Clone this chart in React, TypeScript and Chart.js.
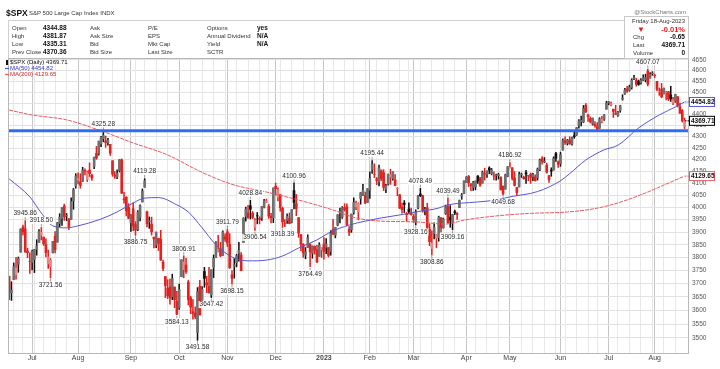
import React, { useEffect, useRef } from "react";
import { Chart, registerables } from "chart.js";
Chart.register(...registerables);

const FONT = '"Liberation Sans", Arial, sans-serif';

// ---- categories: trading days ----
const dates: string[] = [
  "2022-06-16","2022-06-17","2022-06-21","2022-06-22","2022-06-23","2022-06-24","2022-06-27","2022-06-28","2022-06-29","2022-06-30",
  "2022-07-01","2022-07-05","2022-07-06","2022-07-07","2022-07-08","2022-07-11","2022-07-12","2022-07-13","2022-07-14","2022-07-15","2022-07-18","2022-07-19","2022-07-20","2022-07-21","2022-07-22","2022-07-25","2022-07-26","2022-07-27","2022-07-28","2022-07-29",
  "2022-08-01","2022-08-02","2022-08-03","2022-08-04","2022-08-05","2022-08-08","2022-08-09","2022-08-10","2022-08-11","2022-08-12","2022-08-15","2022-08-16","2022-08-17","2022-08-18","2022-08-19","2022-08-22","2022-08-23","2022-08-24","2022-08-25","2022-08-26","2022-08-29","2022-08-30","2022-08-31",
  "2022-09-01","2022-09-02","2022-09-06","2022-09-07","2022-09-08","2022-09-09","2022-09-12","2022-09-13","2022-09-14","2022-09-15","2022-09-16","2022-09-19","2022-09-20","2022-09-21","2022-09-22","2022-09-23","2022-09-26","2022-09-27","2022-09-28","2022-09-29","2022-09-30",
  "2022-10-03","2022-10-04","2022-10-05","2022-10-06","2022-10-07","2022-10-10","2022-10-11","2022-10-12","2022-10-13","2022-10-14","2022-10-17","2022-10-18","2022-10-19","2022-10-20","2022-10-21","2022-10-24","2022-10-25","2022-10-26","2022-10-27","2022-10-28","2022-10-31",
  "2022-11-01","2022-11-02","2022-11-03","2022-11-04","2022-11-07","2022-11-08","2022-11-09","2022-11-10","2022-11-11","2022-11-14","2022-11-15","2022-11-16","2022-11-17","2022-11-18","2022-11-21","2022-11-22","2022-11-23","2022-11-25","2022-11-28","2022-11-29","2022-11-30",
  "2022-12-01","2022-12-02","2022-12-05","2022-12-06","2022-12-07","2022-12-08","2022-12-09","2022-12-12","2022-12-13","2022-12-14","2022-12-15","2022-12-16","2022-12-19","2022-12-20","2022-12-21","2022-12-22","2022-12-23","2022-12-27","2022-12-28","2022-12-29","2022-12-30",
  "2023-01-03","2023-01-04","2023-01-05","2023-01-06","2023-01-09","2023-01-10","2023-01-11","2023-01-12","2023-01-13","2023-01-17","2023-01-18","2023-01-19","2023-01-20","2023-01-23","2023-01-24","2023-01-25","2023-01-26","2023-01-27","2023-01-30","2023-01-31",
  "2023-02-01","2023-02-02","2023-02-03","2023-02-06","2023-02-07","2023-02-08","2023-02-09","2023-02-10","2023-02-13","2023-02-14","2023-02-15","2023-02-16","2023-02-17","2023-02-21","2023-02-22","2023-02-23","2023-02-24","2023-02-27","2023-02-28",
  "2023-03-01","2023-03-02","2023-03-03","2023-03-06","2023-03-07","2023-03-08","2023-03-09","2023-03-10","2023-03-13","2023-03-14","2023-03-15","2023-03-16","2023-03-17","2023-03-20","2023-03-21","2023-03-22","2023-03-23","2023-03-24","2023-03-27","2023-03-28","2023-03-29","2023-03-30","2023-03-31",
  "2023-04-03","2023-04-04","2023-04-05","2023-04-06","2023-04-10","2023-04-11","2023-04-12","2023-04-13","2023-04-14","2023-04-17","2023-04-18","2023-04-19","2023-04-20","2023-04-21","2023-04-24","2023-04-25","2023-04-26","2023-04-27","2023-04-28",
  "2023-05-01","2023-05-02","2023-05-03","2023-05-04","2023-05-05","2023-05-08","2023-05-09","2023-05-10","2023-05-11","2023-05-12","2023-05-15","2023-05-16","2023-05-17","2023-05-18","2023-05-19","2023-05-22","2023-05-23","2023-05-24","2023-05-25","2023-05-26","2023-05-30","2023-05-31",
  "2023-06-01","2023-06-02","2023-06-05","2023-06-06","2023-06-07","2023-06-08","2023-06-09","2023-06-12","2023-06-13","2023-06-14","2023-06-15","2023-06-16","2023-06-20","2023-06-21","2023-06-22","2023-06-23","2023-06-26","2023-06-27","2023-06-28","2023-06-29","2023-06-30",
  "2023-07-03","2023-07-05","2023-07-06","2023-07-07","2023-07-10","2023-07-11","2023-07-12","2023-07-13","2023-07-14","2023-07-17","2023-07-18","2023-07-19","2023-07-20","2023-07-21","2023-07-24","2023-07-25","2023-07-26","2023-07-27","2023-07-28","2023-07-31",
  "2023-08-01","2023-08-02","2023-08-03","2023-08-04","2023-08-07","2023-08-08","2023-08-09","2023-08-10","2023-08-11","2023-08-14","2023-08-15","2023-08-16","2023-08-17","2023-08-18",
];

// ---- series values (daily OHLC) ----
const open: number[] = [
  3728,3665,3715,3733,3774,3821,3920,3913,3825,3785,
  3781,3792,3831,3858,3888,3880,3851,3776,3763,3818,3883,3860,3935,3955,4006,3965,3953,3951,4027,4088,
  4113,4105,4108,4154,4115,4155,4133,4170,4227,4225,4269,4290,4281,4273,4266,4195,4134,4126,4153,4199,4034,4041,4000,
  3937,3994,3930,3909,3959,4022,4083,3982,3941,3932,3880,3849,3875,3871,3782,3727,3682,3687,3651,3687,3633,
  3610,3726,3753,3771,3706,3647,3595,3590,3520,3690,3638,3746,3703,3689,3657,3762,3799,3825,3834,3808,3881,
  3901,3852,3733,3766,3780,3817,3810,3859,3963,3977,4006,3976,3919,3966,3956,3956,4000,4023,4005,3964,3957,
  4087,4041,4052,3996,3934,3947,3954,3940,4069,4015,3958,3890,3853,3810,3839,3853,3816,3843,3829,3805,3830,
  3853,3840,3839,3823,3911,3888,3928,3977,3960,3999,4002,3911,3909,3979,4002,3982,4036,4053,4049,4020,
  4070,4158,4136,4119,4106,4153,4144,4075,4096,4126,4119,4114,4077,4052,4001,4018,3973,3993,3977,
  3963,3938,3998,4055,4048,3987,3998,3912,3835,3894,3876,3878,3958,3917,3975,4003,3959,3939,3982,3975,3999,4046,4056,
  4102,4128,4094,4082,4085,4130,4121,4100,4140,4137,4164,4140,4131,4132,4132,4126,4087,4075,4129,
  4166,4165,4122,4082,4084,4136,4125,4144,4132,4138,4127,4127,4122,4157,4204,4190,4176,4132,4155,4156,4226,4190,
  4183,4241,4282,4271,4285,4268,4304,4308,4350,4366,4365,4440,4396,4380,4355,4354,4344,4337,4367,4377,4422,
  4450,4442,4422,4404,4394,4415,4467,4492,4514,4508,4521,4563,4554,4550,4543,4555,4558,4598,4565,4585,
  4578,4550,4501,4514,4492,4498,4502,4487,4450,4458,4479,4433,4416,4344.88,
];
const high: number[] = [
  3728,3707,3779,3801,3802,3913,3928,3945.86,3836,3818,
  3829,3832,3870,3910,3918.5,3880,3873,3829,3796,3863,3902,3939,3974,3999,4013,3975,3954,4039,4078,4140,
  4144,4140,4167,4161,4151,4186,4137,4211,4257,4280,4301,4325.28,4302,4292,4266,4195,4149,4156,4200,4203,4062,4044,4015,
  3970,4018,3942,3987,4010,4076,4119.28,3985,3961,3960,3880,3900,3876,3907,3790,3727,3715,3717,3736,3687,3671,
  3698,3791,3806.91,3797,3713,3653,3640,3613,3685,3712,3689,3762,3728,3762,3752,3810,3862,3887,3859,3905,3893,
  3911.79,3894,3750,3796,3813,3859,3819,3958,4001,4008,4028.84,3983,3954,3979,3962,4003,4033,4034,4012,3976,4080,
  4100.51,4080,4052,4001,3950,3974,3977,3990,4100.96,4053,3958,3890,3854,3839,3889,3853,3845,3846,3848,3858,3839,
  3878,3874,3839,3906,3951,3919,3970,3997,4003,4015,4014,3922,3972,4039,4026,4019,4061,4095,4063,4077,
  4148,4195.44,4182,4124,4176,4156,4157,4095,4138,4159,4148,4136,4082,4052,4017,4028,3979,4018,3997,
  3971,3990,4048,4078.49,4050,4000,4017,3934,3905,3937,3891,3964,3958,3956,4009,4039.49,4007,3972,3989,3979,4030,4057,4110,
  4127,4133,4099,4108,4109,4132,4125,4151,4163,4152,4169.48,4162,4148,4138,4142,4126,4089,4138,4170,
  4186.92,4165,4149,4082,4147,4143,4130,4154,4132,4143,4141,4135,4164,4202,4213,4209,4185,4132,4165,4212,4231,4195,
  4232,4290,4299,4288,4299,4298,4322,4340,4375,4391,4439,4448,4400,4387,4382,4366,4362,4384,4390,4398,4458,
  4457,4454,4422,4440,4412,4440,4488,4517,4527,4532,4562,4578,4564,4556,4563,4580,4583,4607.07,4590,4595,
  4584,4550,4519,4540,4519,4503,4503,4527,4476,4490,4479,4450,4421,4381.87,
];
const low: number[] = [
  3640,3637,3715,3717,3743,3821,3889,3820,3799,3739,
  3752,3742,3809,3858,3869,3847,3802,3758,3721.56,3818,3818,3860,3922,3927,3947,3946,3910,3951,3992,4079,
  4097,4079,4107,4135,4107,4128,4112,4161,4201,4219,4256,4277,4253,4262,4218,4129,4120,4119,4147,4057,4017,3965,3954,
  3903,3906,3886.75,3906,3945,4022,4083,3921,3915,3888,3837,3838,3827,3789,3749,3647,3644,3623,3640,3610,3584.13,
  3604,3726,3722,3739,3620,3588,3568,3570,3491.58,3584,3638,3686,3666,3664,3647.42,3723,3799,3822,3803,3808,3863,
  3843,3758,3698.15,3721,3764,3786,3751,3859,3944,3956,3953,3954,3906.54,3933,3933,3947,3998,4020,3955,3937,3938,
  4050,4026,3984,3918.39,3922,3935,3933,3937,3993,3966,3879,3827,3800,3795,3839,3764.49,3797,3813,3780,3805,3800,
  3794,3815,3802,3809,3890,3877,3925,3937,3955,3984,3926,3886,3899,3972,3990,3949,4013,4049,4015,4020,
  4037,4141,4123,4094,4088,4111,4069,4060,4092,4095,4113,4089,4048,3995,3976,3979,3943,3973,3968,
  3939,3928.16,3994,4044,3980,3969,3908,3846,3808.86,3873,3838,3864,3901,3916,3971,3936,3919,3909.16,3970,3951,3999,4033,4056,
  4102,4086,4069,4070,4072,4099,4086,4100,4113,4124,4140,4135,4114,4113,4117,4072,4049.68,4075,4127,
  4164,4113,4088,4048.28,4084,4124,4116,4099,4110,4099,4110,4109,4113,4153,4180,4187,4142,4103,4129,4155,4192,4166,
  4171,4241,4266,4263,4266,4262,4292,4305,4337,4347,4362,4407,4367,4360,4351,4341,4328,4336,4360,4372,4422,
  4442,4437,4385,4398,4389,4408,4463,4489,4499,4504,4514,4558,4527,4531,4537,4553,4547,4528,4564,4578,
  4567,4505,4485,4474,4491,4464,4461,4457,4443,4453,4432,4403,4364,4335.31,
];
const close: number[] = [
  3667,3675,3765,3760,3796,3912,3900,3822,3819,3785,
  3825,3831,3845,3903,3899,3854,3819,3802,3790,3863,3831,3937,3960,3999,3962,3967,3921,4024,4072,4130,
  4119,4091,4155,4152,4145,4140,4122,4210,4207,4280,4297,4305,4274,4284,4228,4138,4129,4141,4199,4058,4031,3986,3955,
  3967,3924,3908,3980,4006,4067,4110,3933,3946,3901,3873,3900,3856,3790,3758,3693,3655,3647,3719,3640,3586,
  3678,3791,3783,3745,3640,3612,3589,3577,3670,3583,3678,3720,3695,3666,3753,3797,3859,3831,3807,3901,3872,
  3856,3760,3720,3771,3807,3828,3749,3956,3993,3957,3992,3959,3947,3965,3950,4004,4027,4026,3964,3958,4080,
  4077,4072,3999,3941,3934,3964,3934,3991,4020,3995,3896,3852,3818,3822,3878,3822,3845,3829,3783,3849,3840,
  3824,3853,3808,3895,3892,3919,3970,3983,3999,3991,3929,3899,3973,4020,4017,4016,4060,4071,4018,4077,
  4119,4180,4136,4111,4164,4118,4082,4090,4137,4136,4148,4090,4079,3997,3991,4012,3970,3982,3970,
  3951,3981,4046,4048,3986,3992,3918,3862,3856,3919,3892,3960,3917,3952,4003,3937,3949,3971,3978,3971,4028,4051,4109,
  4125,4101,4090,4105,4109,4109,4092,4146,4138,4151,4155,4155,4130,4134,4137,4072,4056,4135,4169,
  4168,4120,4091,4061,4136,4138,4119,4138,4131,4124,4136,4110,4159,4198,4192,4193,4146,4115,4151,4205,4206,4180,
  4221,4282,4274,4284,4268,4294,4299,4339,4369,4373,4426,4410,4389,4366,4382,4348,4329,4378,4377,4396,4450,
  4456,4447,4412,4399,4410,4439,4472,4510,4505,4523,4555,4566,4535,4536,4555,4567,4567,4537,4582,4589,
  4577,4513,4502,4478,4518,4499,4468,4469,4464,4490,4438,4404,4370.36,4369.71,
];

// ---- moving averages ----
const ma50Dates: string[] = [
  "2022-06-16","2022-06-30","2022-07-08","2022-07-15","2022-07-25","2022-08-01","2022-08-12","2022-08-24","2022-09-02","2022-09-12",
  "2022-09-20","2022-09-30","2022-10-07","2022-10-17","2022-10-25","2022-11-03","2022-11-14","2022-11-25","2022-12-06","2022-12-15",
  "2022-12-28","2023-01-06","2023-01-19","2023-01-30","2023-02-08","2023-02-21","2023-03-02","2023-03-16","2023-03-21","2023-04-11",
  "2023-04-21","2023-05-01","2023-05-17","2023-06-01","2023-06-07","2023-06-16","2023-06-29","2023-07-10","2023-07-21","2023-08-03",
  "2023-08-14","2023-08-18",
];
const ma50: number[] = [
  4118,4043,3977,3925,3917,3925,3949,3981,4018,4038,
  4040,4010,3981,3917,3850,3802,3787,3790,3806,3837,
  3869,3901,3928,3944,3957,3969,3981,3997,4008,4022,
  4030,4043,4065,4110,4140,4198,4242,4262,4338,4396,
  4432,4454.82,
];
const ma200Dates: string[] = [
  "2022-06-16","2022-07-01","2022-07-25","2022-08-12","2022-09-02","2022-09-26","2022-10-14","2022-11-03","2022-11-25","2022-12-15",
  "2023-01-09","2023-01-24","2023-02-08","2023-03-02","2023-03-21","2023-03-31","2023-04-21","2023-05-11","2023-06-06","2023-06-23",
  "2023-07-10","2023-07-27","2023-08-07","2023-08-18",
];
const ma200: number[] = [
  4418,4396,4374,4329,4272,4220,4150,4095,4063,4030,
  3989,3957,3944,3941,3932,3948,3965,3975,3981,3995,
  4018,4063,4092,4129.65,
];

// ---- horizontal level and peak/trough labels ----
const levelLine = 4325.28;
const annDates: string[] = [
  "2022-06-28","2022-07-08","2022-07-14","2022-08-16","2022-09-06","2022-09-12","2022-09-30","2022-10-05","2022-10-13","2022-10-21",
  "2022-11-01","2022-11-03","2022-11-15","2022-11-17","2022-12-06","2022-12-13","2022-12-22","2023-02-02","2023-03-02","2023-03-06",
  "2023-03-13","2023-03-22","2023-03-24","2023-04-26","2023-05-01","2023-07-27",
];
const annValues: number[] = [
  3945.86,3918.5,3721.56,4325.28,3886.75,4119.28,3584.13,3806.91,3491.58,3647.42,
  3911.79,3698.15,4028.84,3906.54,3918.39,4100.96,3764.49,4195.44,3928.16,4078.49,
  3808.86,4039.49,3909.16,4049.68,4186.92,4607.07,
];
const annSide: string[] = [
  "a","a","b","a","b","a","b","a","b","b",
  "a","b","a","b","b","a","b","a","b","a",
  "b","a","b","b","a","a",
];

// ---- axis tick labels ----
const yTicks: number[] = [3500,3550,3600,3650,3700,3750,3800,3850,3900,3950,4000,4050,4100,4150,4200,4250,4300,4350,4400,4450,4500,4550,4600,4650];
const monthNames: string[] = ["Jan","Feb","Mar","Apr","May","Jun","Jul","Aug","Sep","Oct","Nov","Dec"];

const BLACK = "#111111";
const RED = "#e3211f";
const BLACK_HOLLOW = "#707070";
const RED_HOLLOW = "#ee8585";
const MA50_C = "#5656d6";
const MA200_C = "#e85a64";

function monthLabel(i: number): string {
  if (i <= 0 || i >= dates.length) return "";
  const m = dates[i].slice(5, 7);
  if (m === dates[i - 1].slice(5, 7)) return "";
  const mi = parseInt(m, 10);
  return mi === 1 ? dates[i].slice(0, 4) : monthNames[mi - 1];
}
function weekStart(i: number): boolean {
  if (i <= 0 || i >= dates.length) return false;
  const d = new Date(dates[i] + "T00:00:00Z").getUTCDay();
  const p = new Date(dates[i - 1] + "T00:00:00Z").getUTCDay();
  return d < p || (new Date(dates[i]).getTime() - new Date(dates[i - 1]).getTime()) > 4 * 86400000;
}

const last = dates.length - 1;

const overlay = {
  id: "overlay",
  afterDatasetsDraw(chart: any) {
    const { ctx, chartArea: a, scales } = chart;
    const y = scales.y;
    const ly = y.getPixelForValue(levelLine);
    ctx.save();
    ctx.strokeStyle = "#2e6cf6";
    ctx.lineWidth = 3;
    ctx.beginPath();
    ctx.moveTo(a.left, ly);
    ctx.lineTo(a.right, ly);
    ctx.stroke();
    ctx.restore();
  },
  afterDraw(chart: any) {
    const { ctx, chartArea: a, scales } = chart;
    const x = scales.x, y = scales.y;
    ctx.save();
    // frame
    ctx.strokeStyle = "#b8b8b8";
    ctx.lineWidth = 1;
    ctx.strokeRect(a.left + 0.5, a.top + 0.5, a.right - a.left, a.bottom - a.top);

    // peak / trough labels
    ctx.font = `6.5px ${FONT}`;
    ctx.textAlign = "center";
    ctx.textBaseline = "middle";
    annDates.forEach((d, k) => {
      const i = dates.indexOf(d);
      if (i < 0) return;
      const px = x.getPixelForValue(i);
      const py = y.getPixelForValue(annValues[k]);
      const txt = annValues[k].toFixed(2);
      const w = ctx.measureText(txt).width;
      const above = annSide[k] === "a";
      const cy = above ? py - 7 : py + 7;
      ctx.fillStyle = "rgba(255,255,255,0.92)";
      ctx.fillRect(px - w / 2 - 1, cy - 3.5, w + 2, 7);
      ctx.fillStyle = "#2a2a2a";
      ctx.fillText(txt, px, cy);
      ctx.strokeStyle = "#555";
      ctx.lineWidth = 0.6;
      ctx.beginPath();
      ctx.moveTo(px, above ? py - 1 : py + 1);
      ctx.lineTo(px, above ? py - 3.5 : py + 3.5);
      ctx.stroke();
    });

    // in-plot legend
    ctx.textAlign = "left";
    ctx.font = `6px ${FONT}`;
    ctx.fillStyle = BLACK;
    ctx.fillRect(6, 60, 2, 5);
    ctx.fillText(`$SPX (Daily) ${close[last].toFixed(2)}`, 10, 62.5);
    ctx.strokeStyle = MA50_C;
    ctx.lineWidth = 1.2;
    ctx.beginPath(); ctx.moveTo(5, 68.5); ctx.lineTo(9, 68.5); ctx.stroke();
    ctx.fillStyle = "#3535c8";
    ctx.fillText(`MA(50) ${ma50[ma50.length - 1].toFixed(2)}`, 10, 68.5);
    ctx.strokeStyle = MA200_C;
    ctx.beginPath(); ctx.moveTo(5, 74.5); ctx.lineTo(9, 74.5); ctx.stroke();
    ctx.fillStyle = "#d52a2a";
    ctx.fillText(`MA(200) ${ma200[ma200.length - 1].toFixed(2)}`, 10, 74.5);

    // right-edge value boxes
    const boxes = [
      { v: ma50[ma50.length - 1], c: MA50_C },
      { v: close[last], c: "#000" },
      { v: ma200[ma200.length - 1], c: MA200_C },
    ];
    ctx.font = `bold 6.5px ${FONT}`;
    boxes.forEach((b) => {
      const by = y.getPixelForValue(b.v);
      ctx.fillStyle = "#fff";
      ctx.fillRect(689.5, by - 4.5, 25, 9);
      ctx.strokeStyle = b.c;
      ctx.lineWidth = 1;
      ctx.strokeRect(689.5, by - 4.5, 25, 9);
      ctx.setLineDash([1.5, 1]);
      ctx.beginPath(); ctx.moveTo(a.right - 3, by); ctx.lineTo(689.5, by); ctx.stroke();
      ctx.setLineDash([]);
      ctx.fillStyle = "#111";
      ctx.fillText(b.v.toFixed(2), 691, by + 0.5);
    });
    ctx.restore();
  },
};

export default function App() {
  const ref = useRef<HTMLCanvasElement>(null);

  useEffect(() => {
    if (!ref.current) return;
    const labels = [...dates, ""];
    const candleColor = dates.map((_, i) => (close[i] >= (i ? close[i - 1] : open[i]) ? BLACK : RED));
    const bodyColor = dates.map((_, i) =>
      close[i] > open[i] ? (candleColor[i] === BLACK ? BLACK_HOLLOW : RED_HOLLOW) : candleColor[i]
    );
    const chart = new Chart(ref.current, {
      type: "bar",
      data: {
        labels,
        datasets: [
          {
            type: "line",
            data: ma50Dates.map((d, i) => ({ x: d, y: ma50[i] })),
            borderColor: MA50_C,
            borderWidth: 1,
            pointRadius: 0,
            cubicInterpolationMode: "monotone",
            order: 0,
          } as any,
          {
            type: "line",
            data: ma200Dates.map((d, i) => ({ x: d, y: ma200[i] })),
            borderColor: MA200_C,
            borderWidth: 1,
            borderDash: [4, 1],
            pointRadius: 0,
            cubicInterpolationMode: "monotone",
            order: 0,
          } as any,
          {
            type: "bar",
            data: dates.map((_, i) => [Math.min(open[i], close[i]), Math.max(open[i], close[i])]),
            backgroundColor: bodyColor,
            borderWidth: 0,
            barThickness: 2,
            grouped: false,
            order: 1,
          } as any,
          {
            type: "bar",
            data: dates.map((_, i) => [low[i], high[i]]),
            backgroundColor: candleColor,
            borderWidth: 0,
            barThickness: 0.9,
            grouped: false,
            order: 2,
          } as any,
        ],
      },
      options: {
        responsive: false,
        animation: false,
        devicePixelRatio: 1,
        events: [],
        layout: { padding: { top: 58, left: 8, right: 0, bottom: 0 } },
        plugins: { legend: { display: false }, tooltip: { enabled: false } },
        scales: {
          x: {
            type: "category",
            offset: true,
            afterFit: (s: any) => { s.height = 16; },
            border: { display: false },
            grid: {
              offset: false,
              drawTicks: false,
              lineWidth: 1,
              color: (c: any) => (monthLabel(c.index) ? "#c6c6c6" : weekStart(c.index) ? "#e8e8e8" : "rgba(0,0,0,0)"),
            },
            ticks: {
              autoSkip: false,
              maxRotation: 0,
              padding: 1,
              color: "#444",
              font: (c: any) => ({ size: 7, family: FONT, weight: monthLabel(c.index) === "2023" ? "bold" : "normal" }),
              callback: (_v: any, i: number) => monthLabel(i),
            },
          },
          y: {
            type: "logarithmic",
            position: "right",
            min: 3446.7,
            max: 4659.5,
            afterFit: (s: any) => { s.width = 32; },
            afterBuildTicks: (s: any) => { s.ticks = yTicks.map((v) => ({ value: v })); },
            border: { display: false },
            grid: { drawTicks: false, color: "#e2e2e2", lineWidth: 1 },
            ticks: {
              autoSkip: false,
              padding: 4,
              color: "#555",
              font: { size: 6.5, family: FONT },
              callback: (v: any) => String(v),
            },
          },
        },
      } as any,
      plugins: [overlay],
    });
    return () => chart.destroy();
  }, []);

  const prev = close[last - 1];
  const chg = close[last] - prev;
  const pct = (chg / prev) * 100;

  const T = (p: { x: number; y: number; right?: boolean; size?: number; bold?: boolean; color?: string; children: any }) => (
    <span
      style={{
        position: "absolute",
        top: p.y,
        ...(p.right ? { right: 720 - p.x } : { left: p.x }),
        transform: "translateY(-50%)",
        fontSize: p.size ?? 6,
        fontWeight: p.bold ? 700 : 400,
        color: p.color ?? "#333",
        lineHeight: 1,
        whiteSpace: "nowrap",
      }}
    >
      {p.children}
    </span>
  );

  const rows = [28, 36, 44, 52];
  const col1 = ["Open", "High", "Low", "Prev Close"];
  const col1v = [open[last].toFixed(2), high[last].toFixed(2), low[last].toFixed(2), prev.toFixed(2)];
  const col2 = ["Ask", "Ask Size", "Bid", "Bid Size"];
  const col3 = ["P/E", "EPS", "Mkt Cap", "Last Size"];
  const col4 = ["Options", "Annual Dividend", "Yield", "SCTR"];
  const col4v = ["yes", "N/A", "N/A", ""];

  return (
    <div style={{ position: "absolute", left: 0, top: 0, width: 720, height: 369, background: "#fff", fontFamily: FONT, overflow: "hidden" }}>
      <canvas ref={ref} width={720} height={369} style={{ position: "absolute", left: 0, top: 0, width: 720, height: 369 }} />
      <div style={{ position: "absolute", left: 8, top: 20, width: 679, height: 37, borderTop: "1px solid #d0d0d0", borderLeft: "1px solid #d0d0d0" }} />
      <div style={{ position: "absolute", left: 624, top: 16, width: 63, height: 41, border: "1px solid #c8c8c8", background: "#fff" }} />
      <T x={6} y={13} size={8.5} bold color="#111">$SPX</T>
      <T x={29} y={13} size={6} color="#333">S&amp;P 500 Large Cap Index INDX</T>
      <T x={686} y={12} right size={6} color="#777">@StockCharts.com</T>
      {rows.map((ry, k) => (
        <React.Fragment key={k}>
          <T x={12} y={ry}>{col1[k]}</T>
          <T x={43} y={ry} bold size={6.5} color="#111">{col1v[k]}</T>
          <T x={90} y={ry}>{col2[k]}</T>
          <T x={148} y={ry}>{col3[k]}</T>
          <T x={207} y={ry}>{col4[k]}</T>
          <T x={257} y={ry} bold size={6.5} color="#111">{col4v[k]}</T>
        </React.Fragment>
      ))}
      <T x={685} y={21} right size={6}>Friday 18-Aug-2023</T>
      <T x={637} y={29.5} size={8} color={RED}>▼</T>
      <T x={685} y={29.5} right size={7.5} bold color={RED}>{pct.toFixed(2)}%</T>
      <T x={633} y={37}>Chg</T>
      <T x={685} y={37} right bold size={6.5} color="#111">{chg.toFixed(2)}</T>
      <T x={633} y={45}>Last</T>
      <T x={685} y={45} right bold size={6.5} color="#111">{close[last].toFixed(2)}</T>
      <T x={633} y={53}>Volume</T>
      <T x={685} y={53} right bold size={6.5} color="#111">0</T>
    </div>
  );
}
